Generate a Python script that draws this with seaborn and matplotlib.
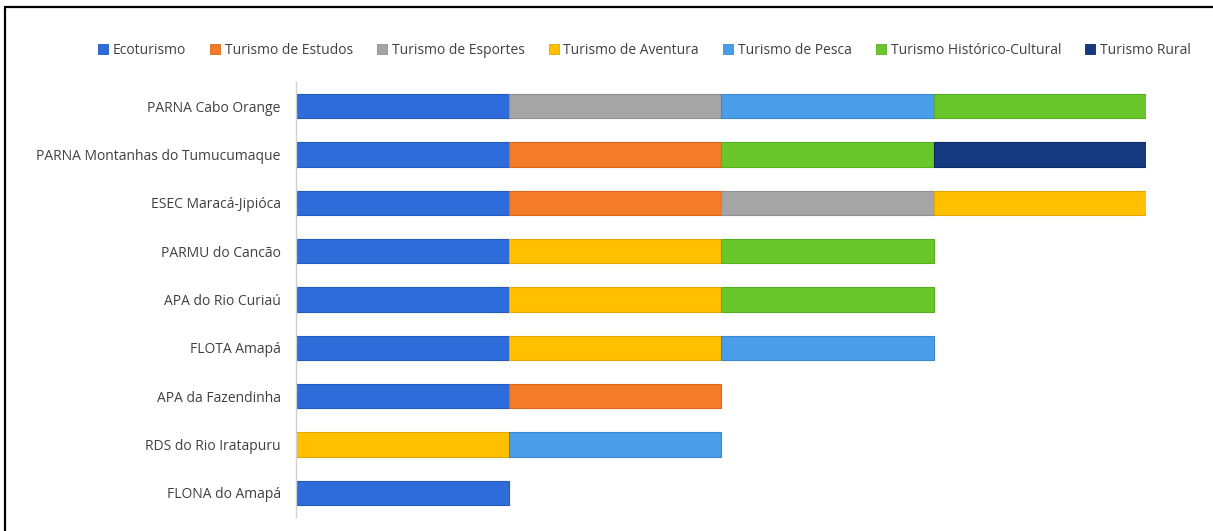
import numpy as np
import pandas as pd
import matplotlib
matplotlib.use("Agg")
import matplotlib.pyplot as plt
from matplotlib.lines import Line2D
import seaborn as sns

categories = [
    "PARNA Cabo Orange",
    "PARNA Montanhas do Tumucumaque",
    "ESEC Maracá-Jipióca",
    "PARMU do Cancão",
    "APA do Rio Curiaú",
    "FLOTA Amapá",
    "APA da Fazendinha",
    "RDS do Rio Iratapuru",
    "FLONA do Amapá",
]

series_names = [
    "Ecoturismo",
    "Turismo de Estudos",
    "Turismo de Esportes",
    "Turismo de Aventura",
    "Turismo de Pesca",
    "Turismo Histórico-Cultural",
    "Turismo Rural",
]

ecoturismo = [1, 1, 1, 1, 1, 1, 1, 0, 1]
estudos = [0, 1, 1, 0, 0, 0, 1, 0, 0]
esportes = [1, 0, 1, 0, 0, 0, 0, 0, 0]
aventura = [0, 0, 1, 1, 1, 1, 0, 1, 0]
pesca = [1, 0, 0, 0, 0, 1, 0, 1, 0]
historico = [1, 1, 0, 1, 1, 0, 0, 0, 0]
rural = [0, 1, 0, 0, 0, 0, 0, 0, 0]

colors = ["#2E6BDB", "#F47B28", "#A5A5A5", "#FFC000", "#4A9DE8", "#69C72B", "#15397F"]
edge_colors = ["#2559BD", "#D9691E", "#8F8F8F", "#E0A800", "#3C88D0", "#58AE22", "#0E2A63"]

series_values = [ecoturismo, estudos, esportes, aventura, pesca, historico, rural]

sns.set_theme(style="white")
plt.rcParams["font.family"] = ["Open Sans", "DejaVu Sans"]

W, H = 1213, 531
fig = plt.figure(figsize=(W / 100, H / 100), dpi=100)
ax = fig.add_axes([296 / W, (H - 517) / H, (1146 - 296) / W, (517 - 82) / H])

left = np.zeros(len(categories))
for name, vals, c, ec in zip(series_names, series_values, colors, edge_colors):
    df = pd.DataFrame({"cat": categories, "val": vals})
    sns.barplot(
        data=df, x="val", y="cat", order=categories, orient="y",
        color=c, saturation=1, width=0.5, ax=ax, left=left.copy(),
        edgecolor=ec, linewidth=0.8, errorbar=None,
    )
    left = left + np.array(vals, dtype=float)

# hide zero-width bars
for p in ax.patches:
    if p.get_width() == 0:
        p.set_visible(False)

ax.set_xlim(0, 4)
ax.set_ylim(len(categories) - 0.5, -0.5)
ax.set_xlabel("")
ax.set_ylabel("")
ax.set_xticks([])
ax.tick_params(axis="y", length=0, pad=11, labelsize=10, labelcolor="#404040")
for s in ["top", "right", "bottom"]:
    ax.spines[s].set_visible(False)
ax.spines["left"].set_color("#D0D0D0")
ax.spines["left"].set_linewidth(1.0)

handles = [
    Line2D([0], [0], marker="s", linestyle="none", markersize=6.5,
           markerfacecolor=c, markeredgecolor=ec, markeredgewidth=0.6)
    for c, ec in zip(colors, edge_colors)
]
fig.legend(
    handles, series_names, loc="center", bbox_to_anchor=(644 / W, 1 - 50 / H),
    ncol=7, frameon=False, fontsize=10, handletextpad=0.3,
    columnspacing=1.7, handlelength=0.8, labelcolor="#404040",
)

# outer frame (partially visible)
fig.add_artist(Line2D([5 / W, 5 / W], [0, 1 - 7 / H], transform=fig.transFigure,
                      color="black", linewidth=1.6))
fig.add_artist(Line2D([5 / W, 1], [1 - 7 / H, 1 - 7 / H], transform=fig.transFigure,
                      color="black", linewidth=1.6))

fig.savefig("out.png", dpi=100)
